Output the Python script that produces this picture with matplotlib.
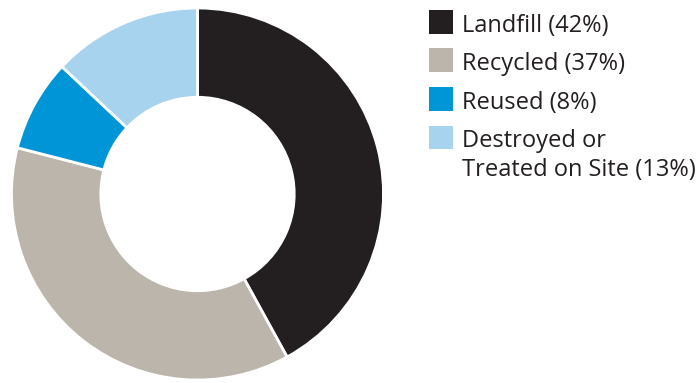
import matplotlib
matplotlib.use("Agg")
import matplotlib.pyplot as plt
from matplotlib.patches import Rectangle

labels = ["Landfill (42%)", "Recycled (37%)", "Reused (8%)", "Destroyed or\nTreated on Site (13%)"]
values = [42, 37, 8, 13]
colors = ["#231f20", "#bcb5ab", "#0095d6", "#a7d3ee"]

plt.rcParams['font.family'] = ['Open Sans', 'DejaVu Sans']

fig = plt.figure(figsize=(6.99, 3.83), dpi=100)

# donut
ax = fig.add_axes([11.5 / 699, 3 / 383, 372 / 699, 372 / 383])
ax.pie(values, colors=colors, startangle=90, counterclock=False, radius=1,
       wedgeprops=dict(width=0.48, edgecolor="white", linewidth=2))
ax.set_xlim(-1, 1)
ax.set_ylim(-1, 1)
ax.set_aspect("equal")
ax.axis("off")

# legend drawn by hand: square top and text baseline (px from top) per row
W, H = 699, 383
box_tops = [10, 48.5, 87, 125.5]
baselines = [32, 70.5, 109, 147]
line_gap = 28.5
for lab, col, top, base in zip(labels, colors, box_tops, baselines):
    fig.patches.append(Rectangle((429 / W, 1 - (top + 23.5) / H), 23.5 / W, 23.5 / H,
                                 transform=fig.transFigure, facecolor=col, edgecolor="none"))
    for i, line in enumerate(lab.split("\n")):
        fig.text(462 / W, 1 - (base + i * line_gap) / H, line, fontsize=17,
                 color="#231f20", va="baseline", ha="left")

fig.savefig("out.png", dpi=100)
